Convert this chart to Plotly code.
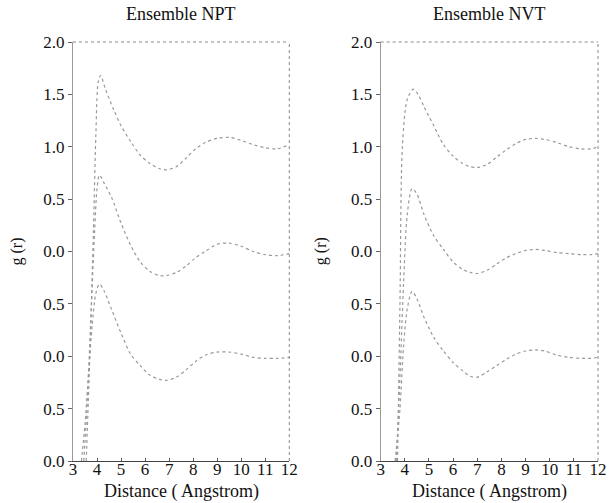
import plotly.graph_objects as go

# ---------------- data (stacked curves in axis units) -------------
# Ensemble NPT
npt_low_r = [3.35, 3.5, 3.65, 3.8, 3.95, 4.1, 4.3, 4.6, 5.0, 5.4, 5.8, 6.2, 6.6, 6.9, 7.3, 7.7, 8.1, 8.5, 9.0, 9.5, 10.0, 10.5, 11.0, 11.5, 12.0]
npt_low_g = [0.0, 0.35, 0.85, 1.3, 1.6, 1.69, 1.62, 1.45, 1.22, 1.02, 0.91, 0.82, 0.78, 0.77, 0.8, 0.87, 0.95, 1.01, 1.04, 1.04, 1.02, 0.99, 0.98, 0.98, 0.99]

npt_mid_r = [3.45, 3.6, 3.75, 3.9, 4.0, 4.1, 4.3, 4.6, 5.0, 5.4, 5.8, 6.2, 6.6, 6.9, 7.3, 7.7, 8.1, 8.5, 9.0, 9.5, 10.0, 10.5, 11.0, 11.5, 12.0]
npt_mid_g = [0.0, 0.6, 1.4, 2.2, 2.6, 2.73, 2.65, 2.52, 2.27, 2.06, 1.9, 1.81, 1.77, 1.77, 1.8, 1.86, 1.94, 2.0, 2.07, 2.08, 2.05, 2.0, 1.97, 1.96, 1.98]

npt_top_r = [3.55, 3.7, 3.85, 3.95, 4.05, 4.15, 4.35, 4.7, 5.0, 5.4, 5.8, 6.2, 6.6, 6.9, 7.3, 7.7, 8.1, 8.5, 9.0, 9.5, 10.0, 10.5, 11.0, 11.5, 12.0]
npt_top_g = [0.0, 1.0, 2.2, 3.1, 3.62, 3.68, 3.55, 3.35, 3.2, 3.05, 2.92, 2.84, 2.79, 2.78, 2.81, 2.89, 2.98, 3.04, 3.08, 3.09, 3.06, 3.02, 2.99, 2.98, 3.02]

# Ensemble NVT
nvt_low_r = [3.6, 3.8, 3.95, 4.1, 4.3, 4.5, 4.8, 5.2, 5.6, 6.0, 6.4, 6.7, 7.0, 7.4, 7.8, 8.2, 8.6, 9.0, 9.4, 9.8, 10.3, 10.8, 11.3, 11.7, 12.0]
nvt_low_g = [0.0, 0.5, 1.1, 1.45, 1.62, 1.55, 1.37, 1.18, 1.05, 0.94, 0.86, 0.81, 0.8, 0.85, 0.91, 0.97, 1.02, 1.05, 1.06, 1.05, 1.01, 0.99, 0.98, 0.98, 0.99]

nvt_mid_r = [3.65, 3.8, 3.95, 4.1, 4.3, 4.5, 4.8, 5.2, 5.6, 6.0, 6.4, 6.7, 7.0, 7.4, 7.8, 8.2, 8.6, 9.0, 9.4, 9.8, 10.3, 10.8, 11.3, 11.7, 12.0]
nvt_mid_g = [0.0, 0.8, 1.7, 2.35, 2.6, 2.55, 2.35, 2.15, 2.02, 1.9, 1.83, 1.8, 1.79, 1.82, 1.88, 1.94, 1.98, 2.01, 2.02, 2.01, 1.99, 1.98, 1.97, 1.97, 1.98]

nvt_top_r = [3.7, 3.8, 3.9, 4.1, 4.35, 4.55, 4.8, 5.2, 5.6, 6.0, 6.4, 6.7, 7.0, 7.4, 7.8, 8.2, 8.6, 9.0, 9.4, 9.8, 10.3, 10.8, 11.3, 11.7, 12.0]
nvt_top_g = [0.0, 1.5, 3.0, 3.45, 3.55, 3.5, 3.38, 3.2, 3.02, 2.91, 2.84, 2.81, 2.8, 2.83, 2.9, 2.97, 3.03, 3.07, 3.08, 3.07, 3.04, 3.0, 2.98, 2.98, 3.0]

x_ticks = [3, 4, 5, 6, 7, 8, 9, 10, 11, 12]
y_tickvals = [0, 0.5, 1, 1.5, 2, 2.5, 3, 3.5, 4]
y_ticktext = ["0.0", "0.5", "0.0", "0.5", "0.0", "0.5", "1.0", "1.5", "2.0"]
panel_titles = ["Ensemble NPT", "Ensemble NVT"]
x_title = "Distance ( Angstrom)"
y_title = "g (r)"

FONT = "Liberation Serif, Times New Roman, serif"
CURVE = "#999999"

fig = go.Figure()

series = [
    (npt_low_r, npt_low_g, "x", "y"),
    (npt_mid_r, npt_mid_g, "x", "y"),
    (npt_top_r, npt_top_g, "x", "y"),
    (nvt_low_r, nvt_low_g, "x2", "y2"),
    (nvt_mid_r, nvt_mid_g, "x2", "y2"),
    (nvt_top_r, nvt_top_g, "x2", "y2"),
]
for r, g, xa, ya in series:
    fig.add_trace(go.Scatter(
        x=r, y=g, xaxis=xa, yaxis=ya, mode="lines",
        line=dict(color=CURVE, width=1.2, dash="dot", shape="spline", smoothing=0.8),
        showlegend=False, hoverinfo="skip"))

xcommon = dict(range=[3, 12], tickvals=x_ticks, ticks="inside", ticklen=3, tickcolor="#555",
               ticklabelstandoff=-7,
               showgrid=False, zeroline=False, showline=True, linecolor="#444", linewidth=1,
               tickfont=dict(family=FONT, size=17, color="#111"))
ycommon = dict(range=[0, 4], tickvals=y_tickvals, ticktext=y_ticktext, ticks="outside",
               ticklen=4, tickcolor="#666", showgrid=False, zeroline=False, showline=True,
               linecolor="#9a9a9a", linewidth=1,
               tickfont=dict(family=FONT, size=17, color="#111"))

fig.update_layout(
    width=615, height=503,
    margin=dict(l=73, r=8, t=42, b=42),
    paper_bgcolor="white", plot_bgcolor="white",
    xaxis=dict(domain=[0, 0.412], anchor="y", **xcommon),
    yaxis=dict(domain=[0, 1], anchor="x", **ycommon),
    xaxis2=dict(domain=[0.586, 1], anchor="y2", **xcommon),
    yaxis2=dict(domain=[0, 1], anchor="x2", **ycommon),
)

shapes = []
annotations = []
for i, (xr, yr) in enumerate([("x", "y"), ("x2", "y2")]):
    # top and right borders (faint dotted)
    shapes.append(dict(type="line", xref=f"{xr} domain", yref=f"{yr} domain",
                       x0=0, x1=1, y0=1, y1=1, line=dict(color="#888", width=1, dash="dot")))
    shapes.append(dict(type="line", xref=f"{xr} domain", yref=f"{yr} domain",
                       x0=1, x1=1, y0=0, y1=1, line=dict(color="#888", width=1, dash="dot")))
    annotations.append(dict(text=panel_titles[i], xref=f"{xr} domain", yref="paper",
                            x=0.5, y=1, xanchor="center", yanchor="bottom", yshift=16,
                            showarrow=False, font=dict(family=FONT, size=18, color="#111")))
    annotations.append(dict(text=x_title, xref=f"{xr} domain", yref="paper",
                            x=0.5, y=0, xanchor="center", yanchor="middle", yshift=-30,
                            showarrow=False, font=dict(family=FONT, size=18, color="#111")))
    annotations.append(dict(text=y_title, xref=f"{xr} domain", yref="paper",
                            x=0, y=0.5, xanchor="center", yanchor="middle",
                            xshift=-57 if i == 0 else -60, textangle=-90,
                            showarrow=False, font=dict(family=FONT, size=16, color="#111")))

fig.update_layout(shapes=shapes, annotations=annotations)

fig.write_html("out.html", config={"displayModeBar": False},
               post_script="document.body.style.margin='0';document.body.style.overflow='hidden';")
